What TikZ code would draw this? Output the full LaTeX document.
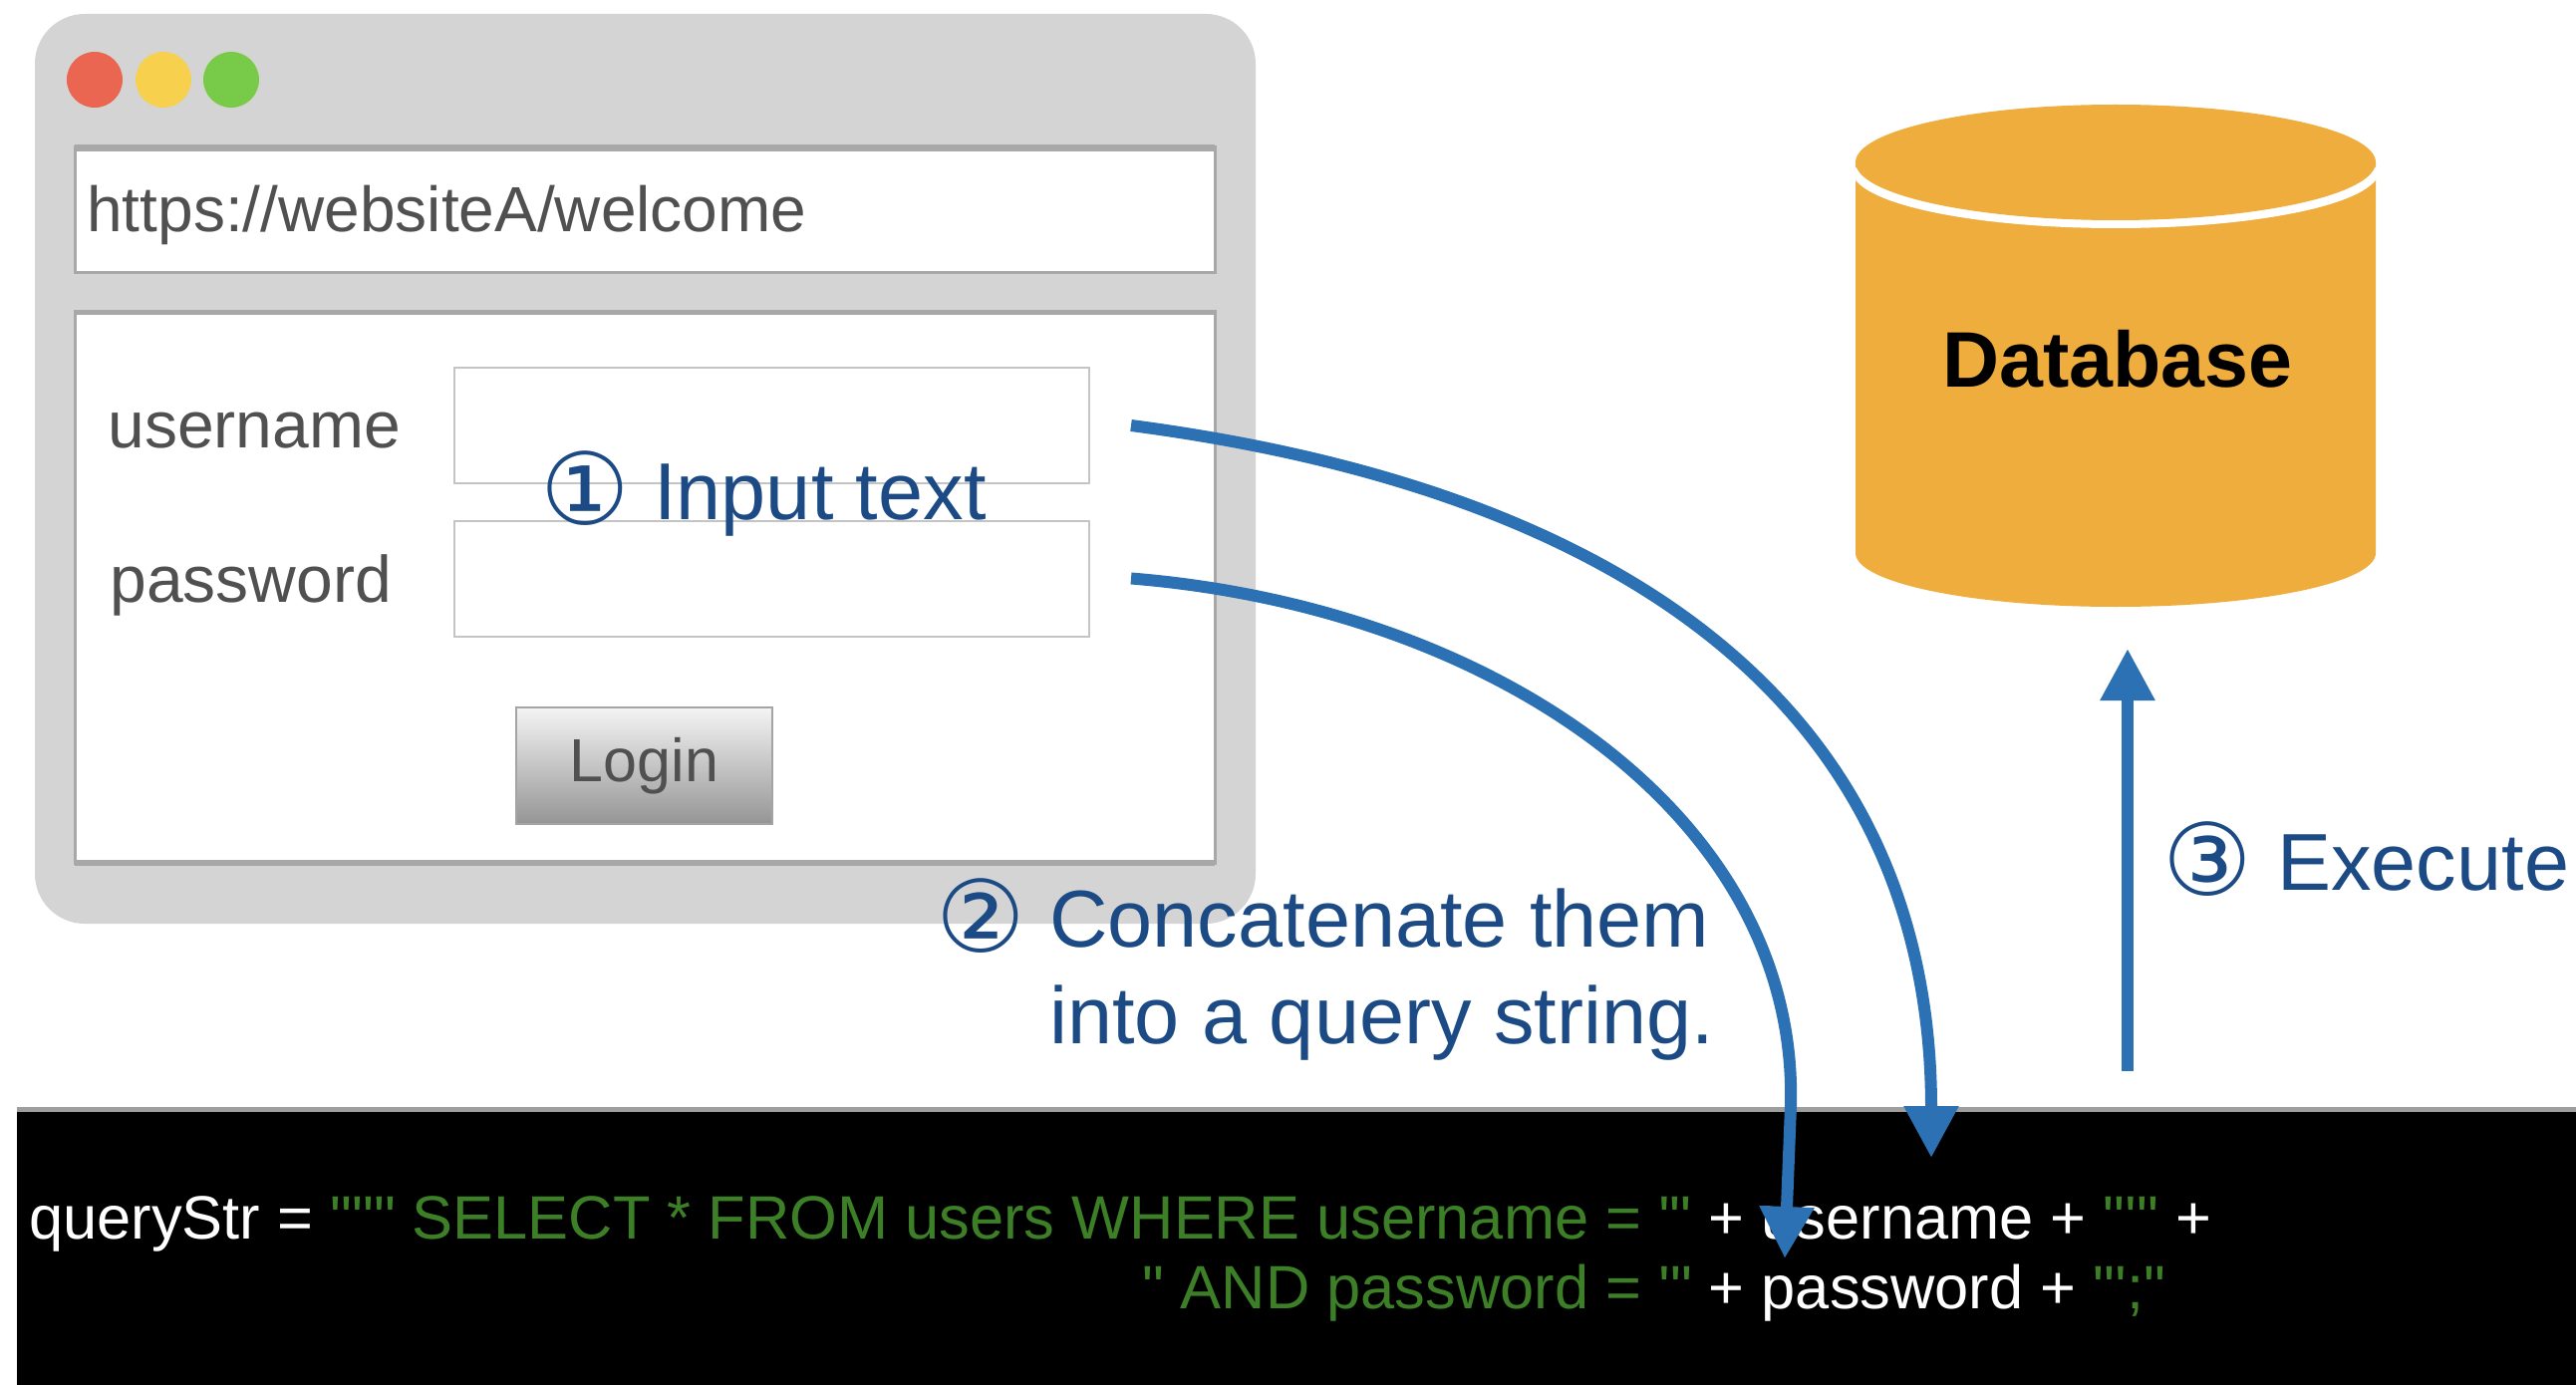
\documentclass[tikz,border=0pt]{standalone}
\usepackage{fontspec}
\setmainfont{Liberation Sans}
\newfontfamily\circfont{DejaVu Sans}
\newfontfamily\codefont{Liberation Sans}
\usetikzlibrary{arrows.meta}

\definecolor{wingray}{HTML}{D4D4D4}
\definecolor{barborder}{HTML}{A8A8A8}
\definecolor{fieldgray}{HTML}{C4C4C4}
\definecolor{labelgray}{HTML}{505050}
\definecolor{btntop}{HTML}{F4F4F4}
\definecolor{btnbottom}{HTML}{959595}
\definecolor{btnborder}{HTML}{A4A4A4}
\definecolor{dotred}{HTML}{EA6650}
\definecolor{dotyellow}{HTML}{F7D14E}
\definecolor{dotgreen}{HTML}{78CB48}
\definecolor{stepblue}{HTML}{1C4A84}
\definecolor{flowblue}{HTML}{2B71B3}
\definecolor{dborange}{HTML}{EEAD3D}
\definecolor{codegreen}{HTML}{3C7F26}
\definecolor{codeedge}{HTML}{9E9E9E}

\tikzset{
  barline/.style={draw=barborder, line width=1.5pt, fill=white},
  field/.style={draw=fieldgray, fill=white, line width=1pt,
    minimum width=318.5pt, minimum height=58pt, inner sep=0pt},
  formlabel/.style={text=labelgray, font=\fontsize{33}{40}\selectfont,
    inner sep=0pt, anchor=base west},
  loginbtn/.style={draw=btnborder, line width=0.8pt, top color=btntop,
    bottom color=btnbottom, minimum width=128.5pt, minimum height=58.5pt,
    text=labelgray, font=\fontsize{30.5}{36}\selectfont},
  stepnum/.style={text=stepblue, font=\circfont\fontsize{50}{56}\selectfont,
    inner sep=0pt, anchor=base east},
  steptext/.style={text=stepblue, font=\fontsize{40.5}{48}\selectfont,
    inner sep=0pt, anchor=base west},
  codeline/.style={text=white, font=\codefont\fontsize{30.7}{36}\selectfont,
    inner sep=0pt, anchor=base west},
  flow/.style={draw=flowblue, line width=6pt, -{Triangle[length=26pt,width=26pt]}},
}

\begin{document}
\begin{tikzpicture}[x=0.5pt,y=-0.5pt]
\useasboundingbox (0,0) rectangle (2585,1390);
\fill [white] (0,0) rectangle (2585,1390);

% browser window
\fill [wingray, rounded corners=25pt] (35,14) rectangle (1260,927);
\fill [dotred] (95,80) circle [radius=14pt];
\fill [dotyellow] (164,80) circle [radius=14pt];
\fill [dotgreen] (232,80) circle [radius=14pt];

\draw [barline] (75,148) rectangle (1219,274);
\draw [barborder, line width=3.5pt] (75,149) -- (1219,149);
\node [text=labelgray, font=\fontsize{32}{38}\selectfont, inner sep=0pt, anchor=base west]
  (url) at (87,233) {https://websiteA/welcome};

% login form
\draw [barline] (75,313) rectangle (1219,866);
\draw [barborder, line width=2.5pt] (75,314) -- (1219,314);
\draw [barborder, line width=3pt] (75,866) -- (1219,866);

\node [formlabel] (userlabel) at (108,450) {username};
\node [formlabel] (passlabel) at (110,604) {password};
\node [field] (userbox) at (774.5,427) {};
\node [field] (passbox) at (774.5,580.5) {};
\node [loginbtn] (login) at (646.5,768.5) {Login};

\node [stepnum] (num1) at (633,526) {①};
\node [steptext] (input) at (656,521) {Input text};

% database
\fill [dborange] (1862,163) -- (1862,555)
  arc [start angle=180, end angle=0, x radius=261, y radius=54] -- (2384,163) -- cycle;
\draw [white, line width=5pt] (1862,168)
  arc [start angle=180, end angle=0, x radius=261, y radius=56];
\fill [dborange] (2123,163) ellipse [x radius=261, y radius=58];
\node [font=\bfseries\fontsize{39.5}{46}\selectfont, inner sep=0pt, anchor=base]
  (db) at (2125,389) {Database};

\node [stepnum] (num2) at (1030,955) {②};
\node [steptext] (concat1) at (1053,950) {Concatenate them};
\node [steptext] (concat2) at (1053,1047) {into a query string.};

\node [stepnum] (num3) at (2261,898) {③};
\node [steptext] (exec) at (2285,893) {Execute};

% query string
\fill [black] (17,1116) rectangle (2585,1390);
\draw [codeedge, line width=2.5pt] (17,1113) -- (2585,1113);

\node [codeline] (line1) at (29,1243)
  {queryStr = \textcolor{codegreen}{""" SELECT * FROM users WHERE username = '"} + username + \textcolor{codegreen}{"'"} +};
\node [codeline] (line2) at (29,1313)
  {\hphantom{queryStr = """ SELECT * FROM users WHERE username}\llap{\textcolor{codegreen}{" AND password}} \textcolor{codegreen}{= '"} + password + \textcolor{codegreen}{"';"}};

% arrows
\coordinate (userout) at ([xshift=20.5pt]userbox.east);
\coordinate (passout) at ([xshift=20.5pt]passbox.east);
\coordinate (usertip) at (1938,1162);
\coordinate (passtip) at (1791,1263);
\coordinate (execfoot) at (2135,1075);
\coordinate (exectip) at (2135,651);

\draw [flow] (userout) .. controls (1615,490) and (1938,700) .. (usertip);
\draw [flow] (passout) .. controls (1500,610) and (1805,820) .. (1797,1110) -- (passtip);
\draw [flow] (execfoot) -- (exectip);

\end{tikzpicture}
\end{document}
